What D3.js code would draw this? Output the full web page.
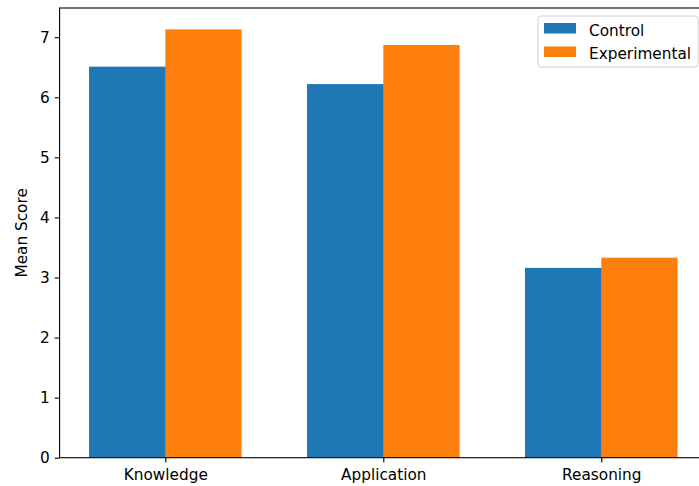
<!DOCTYPE html>
<html>
<head>
<meta charset="utf-8">
<script src="https://cdn.jsdelivr.net/npm/d3@7"></script>
<style>
  html, body { margin: 0; padding: 0; background: #fff; }
  svg { display: block; }
  text { font-family: "DejaVu Sans", sans-serif; fill: #000; }
</style>
</head>
<body>
<svg id="chart" width="699" height="486"></svg>
<script>
// Mean scores per knowledge domain, control vs experimental group
const categories = ["Knowledge", "Application", "Reasoning"];
const seriesNames = ["Control", "Experimental"];
const controlScores = [6.51, 6.22, 3.16];
const experimentalScores = [7.13, 6.87, 3.33];
const yTicks = [0, 1, 2, 3, 4, 5, 6, 7];
const colors = ["#1f77b4", "#ff7f0e"];

const FONT = 15.3;
const plot = { left: 59.6, right: 707, top: 8, bottom: 457.7 };
const barWidth = 0.35;

const svg = d3.select("#chart");

// Category positions on a numeric index axis with 5% padding either side
const xMin = -barWidth, xMax = categories.length - 1 + barWidth;
const xPad = (xMax - xMin) * 0.05;
const x = d3.scaleLinear()
  .domain([xMin - xPad, xMax + xPad])
  .range([plot.left, plot.right]);

const yMax = d3.max(experimentalScores.concat(controlScores)) * 1.05;
const y = d3.scaleLinear()
  .domain([0, yMax])
  .range([plot.bottom, plot.top]);

const series = [controlScores, experimentalScores];

// Bars: control to the left of each category tick, experimental to the right
series.forEach((vals, s) => {
  svg.append("g")
    .selectAll("rect")
    .data(vals)
    .join("rect")
    .attr("x", (d, i) => x(i - barWidth + s * barWidth))
    .attr("width", x(barWidth) - x(0) + (s === 0 ? 0.6 : 0))
    .attr("y", d => y(d))
    .attr("height", d => y(0) - y(d))
    .attr("fill", colors[s]);
});

// Axes
const yAxis = d3.axisLeft(y)
  .tickValues(yTicks)
  .tickFormat(d3.format("d"))
  .tickSize(4.9)
  .tickPadding(5);
const gy = svg.append("g")
  .attr("transform", `translate(${plot.left},0)`)
  .call(yAxis);
gy.select(".domain").remove();
gy.attr("font-size", FONT).attr("font-family", "DejaVu Sans");
gy.selectAll("text").attr("fill", "#000");
gy.selectAll("line").attr("stroke", "#000").attr("stroke-width", 1.1);

const xAxis = d3.axisBottom(x)
  .tickValues(categories.map((c, i) => i))
  .tickFormat(i => categories[i])
  .tickSize(4.9)
  .tickPadding(7);
const gx = svg.append("g")
  .attr("transform", `translate(0,${plot.bottom})`)
  .call(xAxis);
gx.select(".domain").remove();
gx.attr("font-size", FONT).attr("font-family", "DejaVu Sans");
gx.selectAll("text").attr("fill", "#000");
gx.selectAll("line").attr("stroke", "#000").attr("stroke-width", 1.1);

// Frame (spines)
svg.append("rect")
  .attr("x", plot.left)
  .attr("y", plot.top)
  .attr("width", plot.right - plot.left)
  .attr("height", plot.bottom - plot.top)
  .attr("fill", "none")
  .attr("stroke", "#000")
  .attr("stroke-width", 1.1);

// Y axis label
svg.append("text")
  .attr("transform", `translate(22,${(plot.top + plot.bottom) / 2}) rotate(-90)`)
  .attr("text-anchor", "middle")
  .attr("dominant-baseline", "central")
  .attr("font-size", FONT)
  .text("Mean Score");

// Legend
const legend = svg.append("g").attr("transform", "translate(538,16)");
legend.append("rect")
  .attr("x", 0).attr("y", 0)
  .attr("width", 160).attr("height", 51)
  .attr("rx", 3)
  .attr("fill", "#fff")
  .attr("fill-opacity", 0.8)
  .attr("stroke", "#d0d0d0")
  .attr("stroke-width", 1);
seriesNames.forEach((name, i) => {
  const row = legend.append("g").attr("transform", `translate(0,${i * 23.5})`);
  row.append("rect")
    .attr("x", 6).attr("y", 7)
    .attr("width", 32).attr("height", 10.5)
    .attr("fill", colors[i]);
  row.append("text")
    .attr("x", 51).attr("y", 19.5)
    .attr("font-size", FONT)
    .text(name);
});
</script>
</body>
</html>
